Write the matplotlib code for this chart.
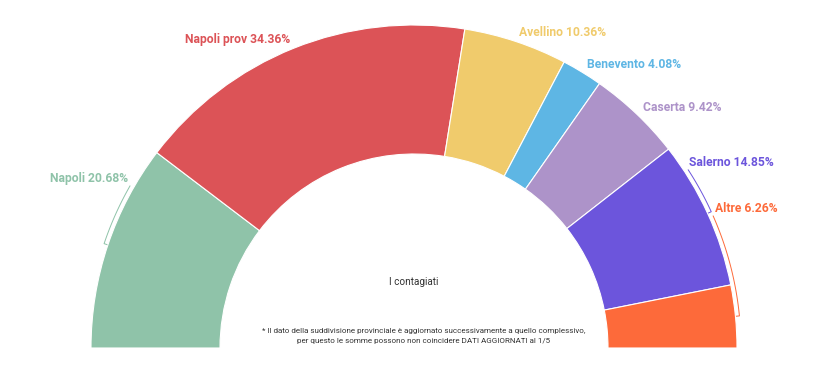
import numpy as np
import matplotlib
matplotlib.use("Agg")
import matplotlib.pyplot as plt

plt.rcParams["font.family"] = ["Roboto", "DejaVu Sans"]

province = ["Napoli", "Napoli prov", "Avellino", "Benevento", "Caserta", "Salerno", "Altre"]
quote = [20.68, 34.36, 10.36, 4.08, 9.42, 14.85, 6.26]
colori = ["#8FC3A9", "#DC5357", "#F0CB6C", "#5EB6E4", "#AD93C9", "#6C55DC", "#FD6A3A"]
titolo = "I contagiati"
nota = ("* Il dato della suddivisione provinciale è aggiornato successivamente a quello complessivo,\n"
        "per questo le somme possono non coincidere DATI AGGIORNATI al 1/5")

# angoli delle etichette spostate (per evitare sovrapposizioni)
angolo_etichetta = {"Napoli": 149.3, "Salerno": 34.0, "Altre": 24.8}

W, H = 820, 366
fig = plt.figure(figsize=(W / 100, H / 100), dpi=100)
ax = fig.add_axes([0, 0, 1, 1])

cx, cy = 414, H - 348
R = 323
r_in = 194
totale = sum(quote)

# mezza ciambella: la seconda metà è una fetta invisibile
wedges, _ = ax.pie(quote + [totale], colors=colori + ["none"], startangle=180,
                   counterclock=False, radius=R, center=(cx, cy),
                   wedgeprops=dict(width=R - r_in, edgecolor="white", linewidth=0.8))
wedges[-1].set_edgecolor("none")

cum = np.cumsum([0] + quote)
for i, nome in enumerate(province):
    mid = 180 - (cum[i] + quote[i] / 2) / totale * 180
    ang = angolo_etichetta.get(nome, mid)
    rl = 332
    x = cx + rl * np.cos(np.radians(ang))
    y = cy + rl * np.sin(np.radians(ang))
    ha = "right" if ang > 90 else "left"
    ax.text(x, y, f"{nome} {quote[i]:.2f}%", ha=ha, va="center", fontsize=8.7,
            color=colori[i], fontweight="bold")
    if nome in angolo_etichetta:
        rc = 327
        a0 = ang - 1.0 if ang < 90 else ang + 1.0
        t = np.radians(np.linspace(a0, mid, 60))
        xs = cx + rc * np.cos(t)
        ys = cy + rc * np.sin(t)
        xs = np.append(xs, cx + (R + 1) * np.cos(np.radians(mid)))
        ys = np.append(ys, cy + (R + 1) * np.sin(np.radians(mid)))
        ax.plot(xs, ys, color=colori[i], lw=0.7)

ax.text(cx, H - 282, titolo, ha="center", va="center", fontsize=7.2, color="#333333")
ax.text(cx + 10, H - 336, nota, ha="center", va="center", fontsize=5.8, color="#333333",
        linespacing=1.85)

ax.set_xlim(0, W)
ax.set_ylim(0, H)
ax.set_aspect("auto")
ax.axis("off")

fig.savefig("out.png", dpi=100, facecolor="white")
